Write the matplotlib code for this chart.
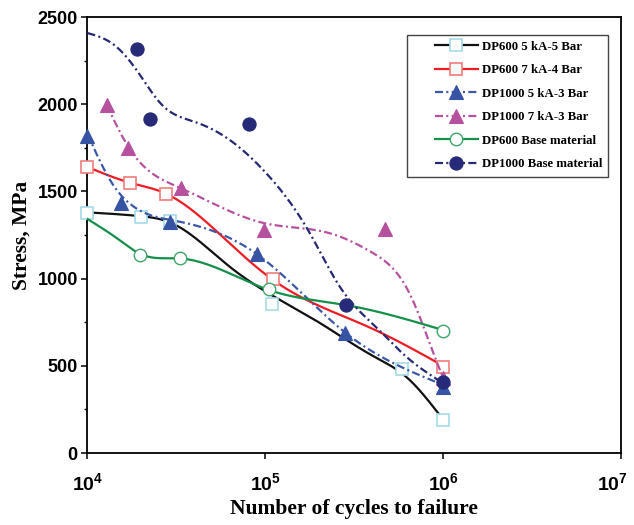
import numpy as np
import matplotlib
matplotlib.use("Agg")
import matplotlib.pyplot as plt
import matplotlib.transforms as mtransforms
from matplotlib.lines import Line2D
from matplotlib.patches import Rectangle
from matplotlib.ticker import FixedLocator, FixedFormatter, MultipleLocator

plt.rcParams['mathtext.fontset'] = 'custom'
plt.rcParams['mathtext.rm'] = 'Liberation Sans:bold'
plt.rcParams['mathtext.it'] = 'Liberation Sans:bold'
plt.rcParams['mathtext.bf'] = 'Liberation Sans:bold'

# ---------------- data ----------------
labels = ["DP600 5 kA-5 Bar", "DP600 7 kA-4 Bar", "DP1000 5 kA-3 Bar",
          "DP1000 7 kA-3 Bar", "DP600 Base material", "DP1000 Base material"]

dp600_5_x = [1e4, 2.0e4, 2.9e4, 1.09e5, 5.9e5, 1e6]
dp600_5_y = [1376, 1351, 1330, 854, 480, 189]

dp600_7_x = [1e4, 1.73e4, 2.76e4, 1.11e5, 1e6]
dp600_7_y = [1640, 1550, 1488, 996, 495]

dp1000_5_x = [1e4, 1.54e4, 2.9e4, 9.0e4, 2.8e5, 1e6]
dp1000_5_y = [1815, 1435, 1327, 1141, 686, 380]

dp1000_7_x = [1.28e4, 1.69e4, 3.35e4, 9.84e4, 4.69e5, 1e6]
dp1000_7_y = [1996, 1749, 1520, 1279, 1283, 430]

dp600_base_x = [1.97e4, 3.31e4, 1.05e5, 1e6]
dp600_base_y = [1135, 1116, 939, 701]

dp1000_base_x = [1.9e4, 2.26e4, 8.1e4, 2.83e5, 1e6]
dp1000_base_y = [2315, 1915, 1885, 849, 409]

# smoothed trend curves (knots, log10 of cycles)
dp600_5_curve_logx = [4.0, 4.3, 4.47, 4.8, 5.3, 5.6, 5.8, 5.976]
dp600_5_curve_y = [1380, 1358, 1320, 1068, 750, 560, 430, 224]

dp600_7_curve_logx = [4.0, 4.24, 4.44, 4.8, 5.04, 5.587, 6.0]
dp600_7_curve_y = [1640, 1550, 1488, 1202, 995, 720, 500]

dp1000_5_curve_logx = [4.0, 4.13, 4.25, 4.5, 4.96, 5.45, 5.99]
dp1000_5_curve_y = [1830, 1560, 1420, 1330, 1135, 690, 395]

dp1000_7_curve_logx = [4.108, 4.23, 4.52, 4.99, 5.36, 5.6, 5.81, 5.96, 6.0]
dp1000_7_curve_y = [1996, 1755, 1521, 1319, 1261, 1150, 917, 533, 430]

dp600_base_curve_logx = [4.0, 4.18, 4.3, 4.52, 5.02, 5.45, 6.0]
dp600_base_curve_y = [1342, 1221, 1140, 1116, 935, 849, 705]

dp1000_base_curve_logx = [4.0, 4.15, 4.28, 4.42, 4.6, 4.8, 5.0, 5.25, 5.42, 5.64, 5.77, 6.0]
dp1000_base_curve_y = [2408, 2340, 2190, 1995, 1900, 1795, 1610, 1261, 952, 705, 573, 400]

x_tick_vals = [1e4, 1e5, 1e6, 1e7]
x_tick_labels = [r'$10^{4}$', r'$10^{5}$', r'$10^{6}$', r'$10^{7}$']
y_tick_vals = [0, 500, 1000, 1500, 2000, 2500]


def natural_spline(xk, yk, xs):
    xk = np.asarray(xk, float); yk = np.asarray(yk, float)
    n = len(xk)
    h = np.diff(xk)
    A = np.zeros((n, n)); b = np.zeros(n)
    A[0, 0] = 1; A[-1, -1] = 1
    for i in range(1, n - 1):
        A[i, i - 1] = h[i - 1]
        A[i, i] = 2 * (h[i - 1] + h[i])
        A[i, i + 1] = h[i]
        b[i] = 6 * ((yk[i + 1] - yk[i]) / h[i] - (yk[i] - yk[i - 1]) / h[i - 1])
    M = np.linalg.solve(A, b)
    idx = np.clip(np.searchsorted(xk, xs) - 1, 0, n - 2)
    x0 = xk[idx]; x1 = xk[idx + 1]; hh = h[idx]
    return (M[idx] * (x1 - xs) ** 3 / (6 * hh) + M[idx + 1] * (xs - x0) ** 3 / (6 * hh)
            + (yk[idx] / hh - M[idx] * hh / 6) * (x1 - xs)
            + (yk[idx + 1] / hh - M[idx + 1] * hh / 6) * (xs - x0))


fig = plt.figure(figsize=(6.34, 5.25), dpi=100)
ax = fig.add_axes([0.138, 0.137, 0.8415, 0.8306])

dashdot = (0, (3.6, 1.5, 0.9, 1.5))

series = [
    dict(x=dp600_5_x, y=dp600_5_y, cx=dp600_5_curve_logx, cy=dp600_5_curve_y,
         lc='#111111', ls='-', marker='s', ms=8, mfc='white', mec='#a3dbe8', mew=1.2),
    dict(x=dp600_7_x, y=dp600_7_y, cx=dp600_7_curve_logx, cy=dp600_7_curve_y,
         lc='#ee1c24', ls='-', marker='s', ms=8, mfc='white', mec='#f27c7c', mew=1.2),
    dict(x=dp1000_5_x, y=dp1000_5_y, cx=dp1000_5_curve_logx, cy=dp1000_5_curve_y,
         lc='#3c59a8', ls=dashdot, marker='^', ms=10, mfc='#3653a4', mec='#3653a4', mew=0.8),
    dict(x=dp1000_7_x, y=dp1000_7_y, cx=dp1000_7_curve_logx, cy=dp1000_7_curve_y,
         lc='#b5519e', ls=dashdot, marker='^', ms=10, mfc='#b5519e', mec='#b5519e', mew=0.8),
    dict(x=dp600_base_x, y=dp600_base_y, cx=dp600_base_curve_logx, cy=dp600_base_curve_y,
         lc='#14904a', ls='-', marker='o', ms=9, mfc='white', mec='#3ea56a', mew=1.0),
    dict(x=dp1000_base_x, y=dp1000_base_y, cx=dp1000_base_curve_logx, cy=dp1000_base_curve_y,
         lc='#262a74', ls=dashdot, marker='o', ms=9.5, mfc='#262a78', mec='#262a78', mew=0.8),
]

handles = []
for i, s in enumerate(series):
    xs = np.linspace(s['cx'][0], s['cx'][-1], 400)
    ys = natural_spline(s['cx'], s['cy'], xs)
    ax.plot(10 ** xs, ys, color=s['lc'], ls=s['ls'], lw=1.6, zorder=3 + 2 * i)
    ax.plot(s['x'], s['y'], ls='none', marker=s['marker'], ms=s['ms'], mfc=s['mfc'],
            mec=s['mec'], mew=s['mew'], zorder=4 + 2 * i, clip_on=False)
    handles.append(Line2D([], [], color=s['lc'], ls=s['ls'], lw=1.6, marker=s['marker'],
                          ms=s['ms'], mfc=s['mfc'], mec=s['mec'], mew=s['mew']))

ax.set_xscale('log')
ax.set_xlim(1e4, 1e7)
ax.set_ylim(0, 2500)
ax.xaxis.set_major_locator(FixedLocator(x_tick_vals))
ax.xaxis.set_major_formatter(FixedFormatter(x_tick_labels))
ax.xaxis.set_minor_locator(FixedLocator([]))
ax.yaxis.set_major_locator(FixedLocator(y_tick_vals))
ax.yaxis.set_minor_locator(MultipleLocator(250))

for sp in ax.spines.values():
    sp.set_linewidth(1.3)
    sp.set_color('black')
ax.tick_params(axis='both', which='major', direction='out', length=4, width=1.1, pad=3)
ax.tick_params(axis='y', which='minor', direction='out', length=2.5, width=1.0)
ax.tick_params(axis='y', labelsize=13)
ax.tick_params(axis='x', labelsize=14, pad=10)
for lab in ax.get_yticklabels():
    lab.set_fontfamily('Liberation Sans')
    lab.set_fontweight('bold')

# keep the last x tick label inside the canvas (as in the reference)
shift = mtransforms.ScaledTranslation(-6 / 72, 0, fig.dpi_scale_trans)
last_lab = ax.get_xticklabels()[-1]
last_lab.set_transform(last_lab.get_transform() + shift)

ax.set_xlabel('Number of cycles to failure', fontfamily='Liberation Serif',
              fontweight='bold', fontsize=15.5, labelpad=3)
ax.set_ylabel('Stress, MPa', fontfamily='Liberation Serif',
              fontweight='bold', fontsize=15.5, labelpad=4)

# legend frame drawn as a rectangle (box: x 405..608 px, y 35..177 px)
frame = Rectangle((0.5984, 0.633), 0.3771, 0.3257, transform=ax.transAxes,
                  fill=True, facecolor='white', edgecolor='#444444', lw=1.0, zorder=20)
ax.add_patch(frame)
leg = ax.legend(handles, labels, loc='upper right', bbox_to_anchor=(0.9756, 0.9587),
                borderaxespad=0, handlelength=3.4, labelspacing=0.9, handletextpad=0.3,
                borderpad=0.45, frameon=False,
                prop={'family': 'Liberation Serif', 'weight': 'bold', 'size': 9.2})
leg.set_zorder(21)

fig.savefig('out.png', dpi=100)
